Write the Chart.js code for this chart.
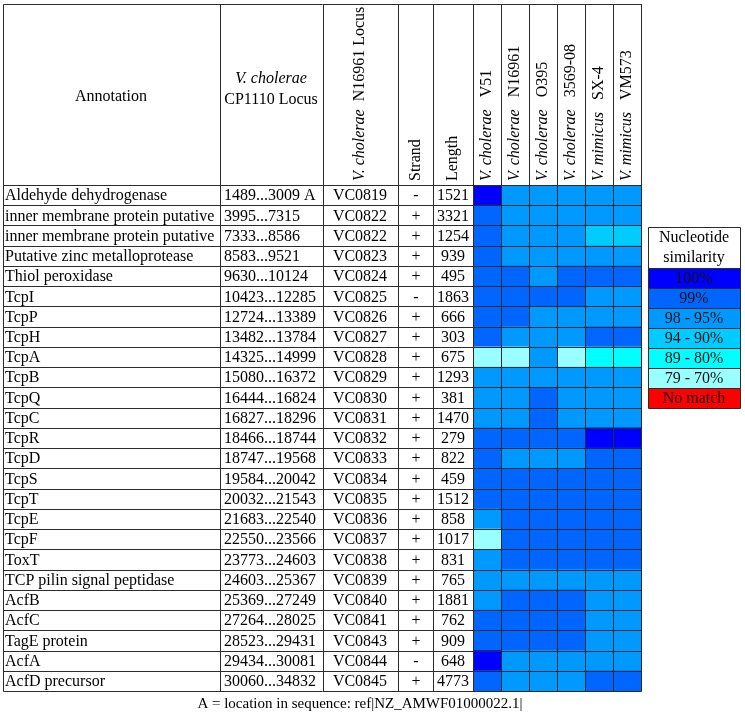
<!DOCTYPE html>
<html lang="en">
<head>
    <meta charset="UTF-8">
    <title>TCP island nucleotide similarity</title>
    <script src="https://cdn.jsdelivr.net/npm/chart.js"></script>
    <style>
        body { margin: 0; background: #fff; }
        #wrap { width: 745px; height: 715px; }
    </style>
</head>
<body>
    <div id="wrap"><canvas id="heat" width="745" height="715"></canvas></div>

    <script>
        // Table columns
        const annotations = ['Aldehyde dehydrogenase', 'inner membrane protein putative', 'inner membrane protein putative',
            'Putative zinc metalloprotease', 'Thiol peroxidase', 'TcpI', 'TcpP', 'TcpH', 'TcpA', 'TcpB', 'TcpQ', 'TcpC',
            'TcpR', 'TcpD', 'TcpS', 'TcpT', 'TcpE', 'TcpF', 'ToxT', 'TCP pilin signal peptidase', 'AcfB', 'AcfC',
            'TagE protein', 'AcfA', 'AcfD precursor'];
        const cp1110Locus = ['1489...3009 A', '3995...7315', '7333...8586', '8583...9521', '9630...10124', '10423...12285',
            '12724...13389', '13482...13784', '14325...14999', '15080...16372', '16444...16824', '16827...18296',
            '18466...18744', '18747...19568', '19584...20042', '20032...21543', '21683...22540', '22550...23566',
            '23773...24603', '24603...25367', '25369...27249', '27264...28025', '28523...29431', '29434...30081',
            '30060...34832'];
        const n16961Locus = ['VC0819', 'VC0822', 'VC0822', 'VC0823', 'VC0824', 'VC0825', 'VC0826', 'VC0827', 'VC0828',
            'VC0829', 'VC0830', 'VC0831', 'VC0832', 'VC0833', 'VC0834', 'VC0835', 'VC0836', 'VC0837', 'VC0838',
            'VC0839', 'VC0840', 'VC0841', 'VC0843', 'VC0844', 'VC0845'];
        const strand = ['-', '+', '+', '+', '+', '-', '+', '+', '+', '+', '+', '+', '+', '+', '+', '+', '+', '+', '+',
            '+', '+', '+', '+', '-', '+'];
        const geneLength = [1521, 3321, 1254, 939, 495, 1863, 666, 303, 675, 1293, 381, 1470, 279, 822, 459, 1512, 858,
            1017, 831, 765, 1881, 762, 909, 648, 4773];

        // Strains (italic species + strain name)
        const species = ['V. cholerae', 'V. cholerae', 'V. cholerae', 'V. cholerae', 'V. mimicus', 'V. mimicus'];
        const strains = ['V51', 'N16961', 'O395', '3569-08', 'SX-4', 'VM573'];

        // Similarity class per gene (top of range: 100, 99, 98, 94, 89, 79; 0 = no match)
        const simV51   = [100, 99, 99, 99, 99, 99, 99, 99, 79, 98, 98, 98, 99, 99, 99, 99, 98, 79, 98, 98, 98, 99, 99, 100, 99];
        const simN16961 = [98, 98, 98, 98, 99, 99, 99, 98, 79, 98, 98, 98, 99, 98, 99, 99, 99, 99, 99, 98, 99, 99, 99, 98, 98];
        const simO395  = [98, 98, 98, 98, 98, 99, 98, 98, 98, 98, 99, 99, 99, 98, 99, 99, 99, 99, 99, 98, 99, 99, 99, 98, 98];
        const sim3569  = [98, 98, 98, 98, 99, 99, 98, 98, 79, 98, 98, 98, 99, 98, 99, 99, 99, 99, 99, 98, 99, 99, 99, 98, 98];
        const simSX4   = [98, 98, 94, 98, 99, 98, 98, 99, 89, 98, 98, 98, 100, 99, 99, 99, 99, 99, 99, 98, 98, 98, 98, 98, 99];
        const simVM573 = [98, 98, 94, 98, 99, 98, 98, 99, 89, 98, 98, 98, 100, 99, 99, 99, 99, 99, 99, 98, 98, 98, 98, 98, 99];
        const similarity = [simV51, simN16961, simO395, sim3569, simSX4, simVM573];

        // Legend classes
        const legendLabels = ['100%', '99%', '98 - 95%', '94 - 90%', '89 - 80%', '79 - 70%', 'No match'];
        const legendColors = ['#0000ff', '#0066ff', '#0099ff', '#00ccff', '#00ffff', '#99ffff', '#ff0000'];
        const legendKeys = [100, 99, 98, 94, 89, 79, 0];

        function colorFor(v) {
            return legendColors[legendKeys.indexOf(v)];
        }

        const SERIF = '"Liberation Serif", "Times New Roman", serif';
        const colEdges = [3, 220, 323, 398, 433]; // text columns, heatmap follows
        const headTop = 4;

        const tablePlugin = {
            id: 'tablePlugin',
            afterDatasetsDraw(chart) {
                const ctx = chart.ctx;
                const xs = chart.scales.x;
                const ys = chart.scales.y;
                const area = chart.chartArea;
                const rowH = ys.getPixelForValue(1) - ys.getPixelForValue(0);
                const headBottom = area.top;
                const bottom = area.bottom;
                const right = area.right;

                ctx.save();
                // grid lines
                ctx.strokeStyle = '#2b2b2b';
                ctx.lineWidth = 1;
                ctx.beginPath();
                ctx.moveTo(colEdges[0] + 0.5, headTop + 0.5);
                ctx.lineTo(right + 0.5, headTop + 0.5);
                ctx.lineTo(right + 0.5, bottom + 0.5);
                ctx.lineTo(colEdges[0] + 0.5, bottom + 0.5);
                ctx.closePath();
                colEdges.slice(1).forEach(x => {
                    ctx.moveTo(x + 0.5, headTop);
                    ctx.lineTo(x + 0.5, bottom);
                });
                for (let j = 0; j <= strains.length; j++) {
                    const x = Math.round(xs.getPixelForValue(j)) + 0.5;
                    ctx.moveTo(x, headTop);
                    ctx.lineTo(x, bottom);
                }
                for (let i = 0; i < annotations.length; i++) {
                    const y = Math.round(ys.getPixelForValue(i) - rowH / 2) + 0.5;
                    ctx.moveTo(colEdges[0], y);
                    ctx.lineTo(right, y);
                }
                ctx.stroke();

                // body text
                ctx.fillStyle = '#000';
                ctx.font = '16px ' + SERIF;
                ctx.textBaseline = 'middle';
                annotations.forEach((a, i) => {
                    const y = ys.getPixelForValue(i) + 1;
                    ctx.textAlign = 'left';
                    ctx.fillText(a, 5, y);
                    ctx.fillText(cp1110Locus[i], 224, y);
                    ctx.textAlign = 'center';
                    ctx.fillText(n16961Locus[i], 360, y);
                    ctx.fillText(strand[i], 416, y);
                    ctx.fillText(String(geneLength[i]), 453, y);
                });

                // headers
                ctx.textAlign = 'center';
                ctx.fillText('Annotation', 111, 97);
                ctx.font = 'italic 16px ' + SERIF;
                ctx.fillText('V. cholerae', 271, 79);
                ctx.font = '16px ' + SERIF;
                ctx.fillText('CP1110 Locus', 271, 100);

                const rotated = (cx, parts) => {
                    ctx.save();
                    ctx.translate(cx, headBottom - 4);
                    ctx.rotate(-Math.PI / 2);
                    ctx.textAlign = 'left';
                    let x = 0;
                    parts.forEach(p => {
                        ctx.font = (p.italic ? 'italic ' : '') + '16px ' + SERIF;
                        ctx.fillText(p.text, x, 0);
                        x += ctx.measureText(p.text).width;
                    });
                    ctx.restore();
                };
                rotated(360, [{ text: 'V. cholerae', italic: true }, { text: '  N16961 Locus' }]);
                rotated(416, [{ text: 'Strand' }]);
                rotated(453, [{ text: 'Length' }]);
                strains.forEach((s, j) => {
                    const cx = xs.getPixelForValue(j + 0.5);
                    rotated(cx, [{ text: species[j], italic: true }, { text: '   ' + s }]);
                });

                // legend
                const lx = 648, lw = 92, ltop = 227;
                ctx.font = '16px ' + SERIF;
                ctx.textAlign = 'center';
                ctx.fillStyle = '#000';
                ctx.fillText('Nucleotide', lx + lw / 2, ltop + 11);
                ctx.fillText('similarity', lx + lw / 2, ltop + 31);
                legendLabels.forEach((l, k) => {
                    const y = ltop + 41 + k * 20;
                    ctx.fillStyle = legendColors[k];
                    ctx.fillRect(lx, y, lw, 20);
                    ctx.fillStyle = '#111';
                    ctx.fillText(l, lx + lw / 2, y + 11);
                });
                ctx.strokeStyle = '#2b2b2b';
                ctx.beginPath();
                ctx.rect(lx + 0.5, ltop + 0.5, lw, 41 + legendLabels.length * 20);
                for (let k = 0; k < legendLabels.length; k++) {
                    const y = ltop + 41 + k * 20 + 0.5;
                    ctx.moveTo(lx, y);
                    ctx.lineTo(lx + lw, y);
                }
                ctx.stroke();

                // footnote
                ctx.fillStyle = '#000';
                ctx.font = '15px ' + SERIF;
                ctx.fillText('A = location in sequence: ref|NZ_AMWF01000022.1|', 360, 704);
                ctx.restore();
            }
        };

        const datasets = similarity.map((vals, j) => ({
            label: strains[j],
            data: vals.map(() => [j, j + 1]),
            backgroundColor: vals.map(colorFor),
            borderWidth: 0,
            barPercentage: 1,
            categoryPercentage: 1,
            grouped: false
        }));

        new Chart(document.getElementById('heat'), {
            type: 'bar',
            data: { labels: annotations, datasets: datasets },
            options: {
                indexAxis: 'y',
                responsive: false,
                animation: false,
                layout: { padding: { left: 473, top: 185, right: 104, bottom: 24 } },
                scales: {
                    x: { type: 'linear', min: 0, max: strains.length, display: false },
                    y: { display: false }
                },
                plugins: {
                    legend: { display: false },
                    tooltip: { enabled: false }
                }
            },
            plugins: [tablePlugin]
        });
    </script>
</body>
</html>
